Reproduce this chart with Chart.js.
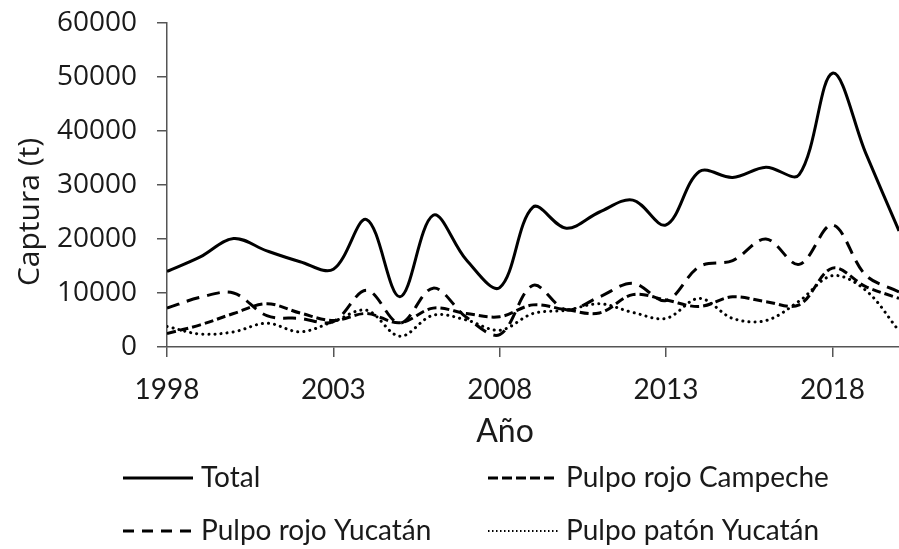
<!DOCTYPE html>
<html>
<head>
<meta charset="utf-8">
<title>Captura de pulpo</title>
<script src="https://cdn.jsdelivr.net/npm/chart.js@4.4.0/dist/chart.umd.min.js"></script>
<style>
  html, body { margin: 0; padding: 0; background: #fff; }
  #wrap { width: 899px; height: 549px; }
</style>
</head>
<body>
<div id="wrap"><canvas id="captura" width="899" height="549"></canvas></div>
<script>
// años de captura
var anios = [1998, 1999, 2000, 2001, 2002, 2003, 2004, 2005, 2006, 2007, 2008, 2009,
             2010, 2011, 2012, 2013, 2014, 2015, 2016, 2017, 2018, 2019, 2020];

// captura en toneladas
var total = [14000, 16700, 20100, 17800, 15800, 14400, 23600, 9300, 24400, 16100, 11000, 25900,
             22000, 25000, 27200, 22600, 32500, 31400, 33300, 31900, 50700, 35900, 21500];
var rojoCampeche = [2500, 4100, 6200, 8000, 6300, 4900, 6200, 4500, 7200, 6200, 5600, 7800,
                    6900, 6300, 9700, 8700, 7500, 9300, 8400, 7800, 14600, 11200, 9000];
var rojoYucatan = [7200, 9200, 10000, 5800, 5300, 4700, 10500, 4400, 10900, 5500, 2300, 11400,
                   6900, 9300, 11800, 8600, 14900, 16000, 20000, 15300, 22600, 13300, 10200];
var patonYucatan = [3800, 2400, 2800, 4400, 2800, 4700, 6800, 2000, 5900, 5000, 3100, 6200,
                    6800, 8000, 6400, 5300, 9000, 5300, 4900, 8500, 13200, 10500, 3000];

var ticksAnio = [1998, 2003, 2008, 2013, 2018];
var ticksCaptura = [0, 10000, 20000, 30000, 40000, 50000, 60000];

function puntos(serie) {
  return anios.map(function(a, i) { return { x: a, y: serie[i] }; });
}

var texto = '#1a1a1a';
var eje = '#555555';

// leyenda y títulos dibujados a mano
var extras = {
  id: 'extras',
  afterDraw: function(chart) {
    var ctx = chart.ctx;
    ctx.save();
    ctx.fillStyle = texto;

    ctx.font = '30px "Open Sans"';
    ctx.textAlign = 'center';
    ctx.textBaseline = 'middle';
    ctx.save();
    ctx.translate(30, 212);
    ctx.rotate(-Math.PI / 2);
    ctx.fillText('Captura (t)', 0, 0);
    ctx.restore();

    ctx.font = '32px Lato';
    ctx.fillText('Año', 505, 432);

    var items = [
      { t: 'Total', x: 123, y: 478, w: 3, dash: [] },
      { t: 'Pulpo rojo Campeche', x: 488, y: 478, w: 3, dash: [10, 4] },
      { t: 'Pulpo rojo Yucatán', x: 123, y: 531, w: 3, dash: [11, 8] },
      { t: 'Pulpo patón Yucatán', x: 488, y: 531, w: 2, dash: [1.5, 2.5] }
    ];
    ctx.font = '28px Lato';
    ctx.textAlign = 'left';
    items.forEach(function(it) {
      ctx.beginPath();
      ctx.setLineDash(it.dash);
      ctx.lineWidth = it.w;
      ctx.strokeStyle = '#000';
      ctx.moveTo(it.x, it.y);
      ctx.lineTo(it.x + 70, it.y);
      ctx.stroke();
      ctx.fillText(it.t, it.x + 78, it.y);
    });
    ctx.restore();
  }
};

new Chart(document.getElementById('captura'), {
  type: 'line',
  data: {
    datasets: [
      { label: 'Total', data: puntos(total), borderColor: '#000', borderWidth: 3 },
      { label: 'Pulpo rojo Campeche', data: puntos(rojoCampeche), borderColor: '#000', borderWidth: 3,
        borderDash: [9, 4] },
      { label: 'Pulpo rojo Yucatán', data: puntos(rojoYucatan), borderColor: '#000', borderWidth: 3,
        borderDash: [13, 8] },
      { label: 'Pulpo patón Yucatán', data: puntos(patonYucatan), borderColor: '#000', borderWidth: 3,
        borderDash: [0.1, 6], borderCapStyle: 'round' }
    ]
  },
  options: {
    responsive: false,
    animation: false,
    devicePixelRatio: 1,
    layout: { padding: { left: 0, top: 23, right: 0, bottom: 0 } },
    elements: {
      line: { tension: 0.35, fill: false },
      point: { radius: 0 }
    },
    plugins: {
      legend: { display: false },
      tooltip: { enabled: false }
    },
    scales: {
      x: {
        type: 'linear',
        min: 1998,
        max: 2020,
        afterBuildTicks: function(s) { s.ticks = ticksAnio.map(function(v) { return { value: v }; }); },
        afterFit: function(s) {
          s.height = 202;
          s.paddingLeft = 0;
          s.paddingRight = 0;
        },
        grid: { drawOnChartArea: false, drawTicks: true, tickLength: 10, color: eje, lineWidth: 1.5 },
        border: { color: eje, width: 1.5 },
        ticks: {
          padding: 16,
          color: texto,
          font: { family: 'Lato', size: 28 },
          maxRotation: 0,
          callback: function(v) { return String(v); }
        }
      },
      y: {
        min: 0,
        max: 60000,
        afterBuildTicks: function(s) { s.ticks = ticksCaptura.map(function(v) { return { value: v }; }); },
        afterFit: function(s) {
          s.width = 167;
          s.paddingTop = 0;
          s.paddingBottom = 0;
        },
        grid: { drawOnChartArea: false, drawTicks: true, tickLength: 10, color: eje, lineWidth: 1.5 },
        border: { color: eje, width: 1.5 },
        ticks: {
          padding: 20,
          color: texto,
          font: { family: 'Open Sans', size: 28 },
          callback: function(v) { return String(v); }
        }
      }
    }
  },
  plugins: [extras]
});
</script>
</body>
</html>
